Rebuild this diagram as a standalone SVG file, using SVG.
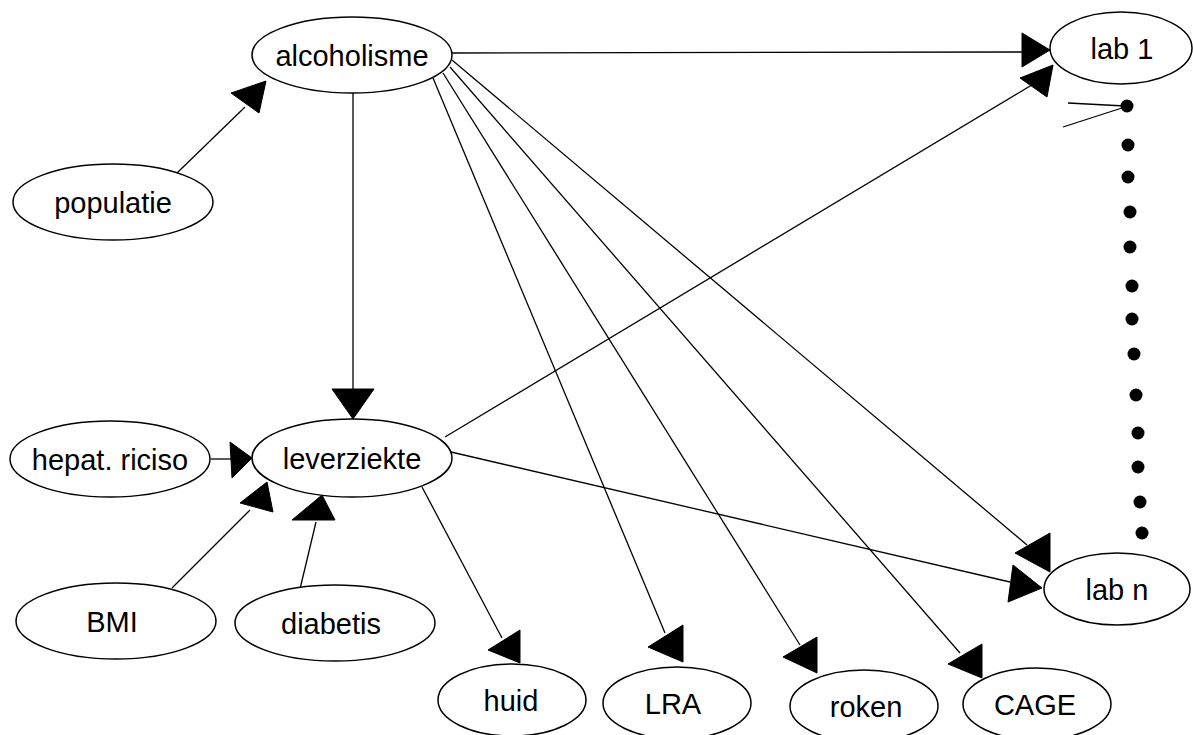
<svg xmlns="http://www.w3.org/2000/svg" width="1193" height="735" viewBox="0 0 1193 735">
<style>
.n ellipse{fill:#fff;stroke:#000;stroke-width:1.5}
.n text{font-family:"Liberation Sans",Arial,sans-serif;font-size:29px;fill:#000;text-anchor:middle}
.e line{stroke:#000;stroke-width:1.3}
.e polygon{fill:#000;stroke:#000;stroke-width:1}
.d circle{fill:#000}
</style>
<rect width="1193" height="735" fill="#fff"/>
<g id="connectors" class="e">
<line x1="177" y1="173" x2="245" y2="107"/>
<polygon points="231,93 266,81 259,113"/>
<line x1="353" y1="93" x2="353" y2="389"/>
<polygon points="332,389 374,389 353,419"/>
<line x1="452" y1="53" x2="1022" y2="52"/>
<polygon points="1022,33 1022,67 1050,50"/>
<line x1="445" y1="437" x2="1040" y2="80"/>
<polygon points="1020,78 1053,65 1047,97"/>
<line x1="211" y1="459" x2="232" y2="459"/>
<polygon points="230,442 252,458 232,478"/>
<line x1="172" y1="588" x2="250" y2="510"/>
<polygon points="240,503 267,482 273,512"/>
<line x1="300" y1="589" x2="316" y2="522"/>
<polygon points="292,520 322,495 335,520"/>
<line x1="422" y1="487" x2="502" y2="638"/>
<polygon points="488,650 520,630 520,663"/>
<line x1="433" y1="78" x2="665" y2="633"/>
<polygon points="648,647 683,625 683,662"/>
<line x1="443" y1="73" x2="800" y2="645"/>
<polygon points="783,657 817,637 817,673"/>
<line x1="450" y1="67" x2="960" y2="653"/>
<polygon points="948,664 982,644 982,678"/>
<line x1="452" y1="60" x2="1027" y2="545"/>
<polygon points="1015,553 1050,533 1050,572"/>
<line x1="451" y1="452" x2="1010" y2="582"/>
<polygon points="1013,565 1042,588 1008,602"/>
<line x1="1068" y1="103" x2="1125" y2="106"/>
<line x1="1063" y1="127" x2="1125" y2="107"/>
</g>
<g id="dots" class="d">
<circle cx="1127" cy="106" r="6.5"/>
<circle cx="1128" cy="145" r="6.5"/>
<circle cx="1128" cy="177" r="6.5"/>
<circle cx="1130" cy="212" r="6.5"/>
<circle cx="1130" cy="247" r="6.5"/>
<circle cx="1132" cy="286" r="6.5"/>
<circle cx="1132" cy="319" r="6.5"/>
<circle cx="1134" cy="354" r="6.5"/>
<circle cx="1136" cy="395" r="6.5"/>
<circle cx="1138" cy="433" r="6.5"/>
<circle cx="1138" cy="467" r="6.5"/>
<circle cx="1140" cy="502" r="6.5"/>
<circle cx="1142" cy="533" r="6.5"/>
</g>
<g id="alcoholisme" class="n"><ellipse cx="352" cy="55" rx="100" ry="38"/><text x="352" y="66">alcoholisme</text></g>
<g id="lab1" class="n"><ellipse cx="1121" cy="48" rx="71" ry="36"/><text x="1122" y="59">lab 1</text></g>
<g id="populatie" class="n"><ellipse cx="113" cy="202" rx="100" ry="38"/><text x="113" y="213">populatie</text></g>
<g id="hepat" class="n"><ellipse cx="110" cy="459" rx="100" ry="38"/><text x="110" y="470">hepat. riciso</text></g>
<g id="leverziekte" class="n"><ellipse cx="352" cy="458" rx="100" ry="39"/><text x="352" y="469">leverziekte</text></g>
<g id="BMI" class="n"><ellipse cx="116" cy="621" rx="100" ry="38"/><text x="112" y="632">BMI</text></g>
<g id="diabetis" class="n"><ellipse cx="335" cy="623" rx="100" ry="38"/><text x="331" y="634">diabetis</text></g>
<g id="huid" class="n"><ellipse cx="512" cy="700" rx="74" ry="36"/><text x="511" y="711">huid</text></g>
<g id="LRA" class="n"><ellipse cx="677" cy="703" rx="74" ry="36"/><text x="673" y="714">LRA</text></g>
<g id="roken" class="n"><ellipse cx="864" cy="706" rx="74" ry="36"/><text x="866" y="717">roken</text></g>
<g id="CAGE" class="n"><ellipse cx="1037" cy="704" rx="74" ry="36"/><text x="1035" y="715">CAGE</text></g>
<g id="labn" class="n"><ellipse cx="1117" cy="589" rx="73" ry="36"/><text x="1117" y="600">lab n</text></g>
</svg>
